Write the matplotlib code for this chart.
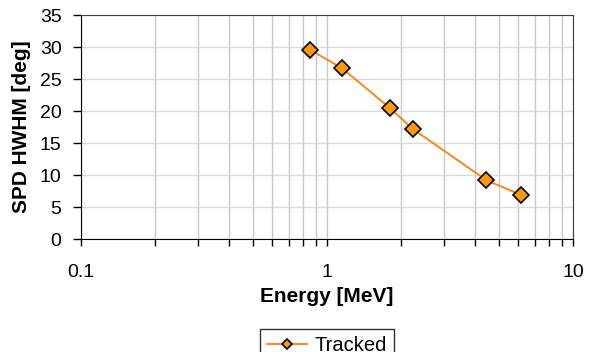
import matplotlib
matplotlib.use("Agg")
import matplotlib.pyplot as plt
from matplotlib.ticker import LogLocator, FixedLocator, NullFormatter

plt.rcParams['font.family'] = ['Liberation Sans', 'DejaVu Sans']

# data
energy = [0.85, 1.15, 1.81, 2.23, 4.44, 6.13]
hwhm = [29.6, 26.7, 20.4, 17.2, 9.2, 6.9]
y_ticks = [0, 5, 10, 15, 20, 25, 30, 35]

fig = plt.figure(figsize=(5.91, 3.52), dpi=100)
ax = fig.add_axes([81 / 591, 1 - 239 / 352, 492 / 591, 224 / 352])

line, = ax.plot(energy, hwhm, color='#ff7f0e', lw=1.3, marker='D', ms=8,
                mfc='#ff9900', mec='black', mew=1.2, label='Tracked', zorder=3)

ax.set_xscale('log')
ax.set_xlim(0.1, 10)
ax.set_ylim(0, 35)
ax.set_yticks(y_ticks)

ax.xaxis.set_major_locator(FixedLocator([0.1, 1, 10]))
ax.xaxis.set_minor_locator(LogLocator(base=10, subs=range(2, 10)))
ax.xaxis.set_minor_formatter(NullFormatter())
ax.set_xticklabels(['0.1', '1', '10'])

ax.grid(True, which='major', axis='y', color='#d9d9d9', lw=1)
ax.grid(True, which='both', axis='x', color='#c8c8c8', lw=1)
ax.set_axisbelow(True)

ax.tick_params(axis='both', which='both', direction='out', color='black',
               labelsize=14, width=1)
ax.tick_params(axis='x', which='major', length=5, pad=13)
ax.tick_params(axis='x', which='minor', length=5)
ax.tick_params(axis='y', length=6, pad=8)

for s in ['top', 'right']:
    ax.spines[s].set_color('#404040')
for s in ['left', 'bottom']:
    ax.spines[s].set_color('black')

ax.set_xlabel('Energy [MeV]', fontsize=15, fontweight='bold', labelpad=4)
ax.set_ylabel('SPD HWHM [deg]', fontsize=15, fontweight='bold', labelpad=6)

# legend sits under the plot area, centred on the axes
leg = ax.legend(handles=[line], loc='upper center',
                bbox_to_anchor=(0.5, -90 / 224), borderaxespad=0,
                fontsize=14.5, frameon=True, markerscale=0.7,
                fancybox=False, edgecolor='black', borderpad=0.35,
                handlelength=2.0, handletextpad=0.4)
leg.get_frame().set_linewidth(1)

fig.savefig('out.png', dpi=100)
